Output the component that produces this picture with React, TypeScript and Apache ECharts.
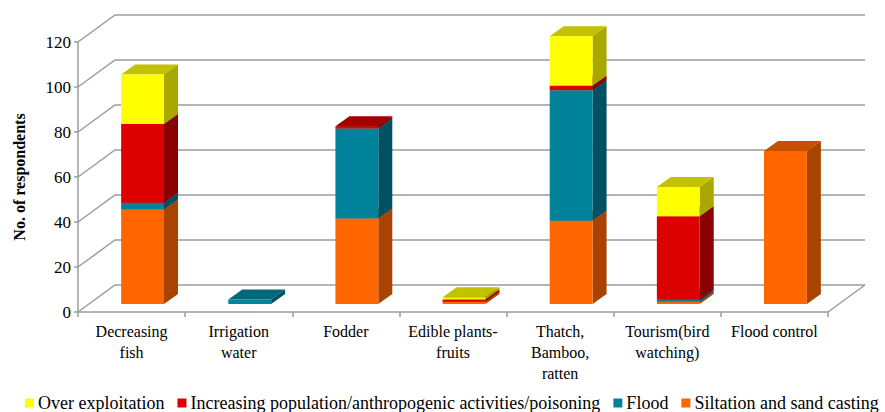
import React, { useEffect, useRef } from "react";
import * as echarts from "echarts";

const categories = [
  "Decreasing\nfish",
  "Irrigation\nwater",
  "Fodder",
  "Edible plants-\nfruits",
  "Thatch,\nBamboo,\nratten",
  "Tourism(bird\nwatching)",
  "Flood control",
];
const siltation = [42, 0, 38, 1, 37, 1, 68];
const flood = [3, 2, 40, 0, 58, 1, 0];
const increasing = [35, 0, 1, 1, 2, 37, 0];
const overExploitation = [22, 0, 0, 1, 22, 13, 0];
const yTicks = [0, 20, 40, 60, 80, 100, 120];

const seriesNames = [
  "Siltation and sand casting",
  "Flood",
  "Increasing population/anthropogenic activities/poisoning",
  "Over exploitation",
];
const legendOrder = [
  "Over exploitation",
  "Increasing population/anthropogenic activities/poisoning",
  "Flood",
  "Siltation and sand casting",
];

const FONT = "Liberation Serif";
const GRID_COLOR = "#9c9c9c";
const DX = 37;
const DY = -27;
const BAR_OFF_X = 11;
const BAR_OFF_Y = -8;
const BAR_DX = 14;
const BAR_DY = -10;

const palettes = [
  { front: "#FF6600", side: "#A84300", top: "#C45000" },
  { front: "#00839A", side: "#005263", top: "#006878" },
  { front: "#DD0000", side: "#8A0000", top: "#A50000" },
  { front: "#FFFF00", side: "#A8A800", top: "#C2C200" },
];

export default function App() {
  const ref = useRef<HTMLDivElement>(null);
  useEffect(() => {
    if (!ref.current) return;
    const chart = echarts.init(ref.current, null, { renderer: "svg" });
    const valueSets = [siltation, flood, increasing, overExploitation];
    const bases = categories.map(() => 0);
    const stacked = valueSets.map((vals) =>
      vals.map((v, i) => {
        const a = bases[i];
        bases[i] += v;
        return [i, a, a + v];
      })
    );

    const gridSeries = {
      type: "custom",
      silent: true,
      z: 1,
      data: yTicks.map((v) => [0, v]),
      encode: { x: 0, y: 1 },
      renderItem: (params: any, api: any) => {
        const cs = params.coordSys;
        const x0 = cs.x;
        const x1 = cs.x + cs.width;
        const v = api.value(1);
        const y = api.coord([0, v])[1];
        const children: any[] = [
          {
            type: "polyline",
            shape: {
              points: [
                [x0, y],
                [x0 + DX, y + DY],
                [x1 + DX, y + DY],
              ],
            },
            style: { stroke: GRID_COLOR, lineWidth: 1.5, fill: null },
          },
        ];
        if (v === 0) {
          children.push({
            type: "line",
            shape: { x1: x1, y1: y, x2: x1 + DX, y2: y + DY },
            style: { stroke: GRID_COLOR, lineWidth: 1.5 },
          });
        }
        return { type: "group", children };
      },
    };

    const barSeries = stacked.map((data, si) => {
      const pal = palettes[si];
      return {
        type: "custom",
        name: seriesNames[si],
        z: 2 + si,
        itemStyle: { color: pal.front },
        data,
        encode: { x: 0, y: [1, 2] },
        renderItem: (params: any, api: any) => {
          const ci = api.value(0);
          const a = api.value(1);
          const b = api.value(2);
          if (b - a <= 0) return { type: "group", children: [] };
          const p0 = api.coord([ci, a]);
          const p1 = api.coord([ci, b]);
          const band = api.size([1, 0])[0];
          const bw = band * 0.4;
          const xl = p0[0] - bw / 2 + BAR_OFF_X;
          const xr = xl + bw;
          const y0 = p0[1] + BAR_OFF_Y;
          const y1 = p1[1] + BAR_OFF_Y;
          return {
            type: "group",
            children: [
              {
                type: "polygon",
                shape: {
                  points: [
                    [xl, y1],
                    [xr, y1],
                    [xr + BAR_DX, y1 + BAR_DY],
                    [xl + BAR_DX, y1 + BAR_DY],
                  ],
                },
                style: { fill: pal.top },
              },
              {
                type: "polygon",
                shape: {
                  points: [
                    [xr, y0],
                    [xr + BAR_DX, y0 + BAR_DY],
                    [xr + BAR_DX, y1 + BAR_DY],
                    [xr, y1],
                  ],
                },
                style: { fill: pal.side },
              },
              {
                type: "rect",
                shape: { x: xl, y: y1, width: bw, height: y0 - y1 },
                style: { fill: pal.front },
              },
            ],
          };
        },
      };
    });

    chart.setOption({
      animation: false,
      textStyle: { fontFamily: FONT },
      grid: { left: 78, right: 57, top: 42, bottom: 100 },
      legend: {
        data: legendOrder,
        left: 25,
        top: 394,
        width: 900,
        icon: "rect",
        itemWidth: 9,
        itemHeight: 9,
        itemGap: 13,
        padding: 0,
        textStyle: { fontFamily: FONT, fontSize: 18, color: "#000", padding: [0, 0, 0, -1] },
      },
      xAxis: {
        type: "category",
        data: categories,
        boundaryGap: true,
        axisLine: { show: true, lineStyle: { color: GRID_COLOR, width: 1.5 } },
        axisTick: { show: true, interval: 0, length: 5, lineStyle: { color: GRID_COLOR, width: 1.5 } },
        axisLabel: {
          interval: 0,
          fontFamily: FONT,
          fontSize: 16,
          lineHeight: 21,
          color: "#000",
          margin: 9,
        },
        splitLine: { show: false },
      },
      yAxis: {
        type: "value",
        min: 0,
        max: 120,
        interval: 20,
        name: "No. of respondents",
        nameLocation: "middle",
        nameRotate: 90,
        nameGap: 51,
        nameTextStyle: { fontFamily: FONT, fontSize: 16, fontWeight: "bold", color: "#000" },
        axisLine: { show: true, lineStyle: { color: GRID_COLOR, width: 1.5 } },
        axisTick: { show: true, length: 4, lineStyle: { color: GRID_COLOR, width: 1.5 } },
        axisLabel: { fontFamily: FONT, fontSize: 17, color: "#000", margin: 7 },
        splitLine: { show: false },
      },
      series: [gridSeries, ...barSeries],
    });
    return () => chart.dispose();
  }, []);
  return (
    <div
      ref={ref}
      style={{ position: "absolute", left: 0, top: 0, width: 885, height: 412, background: "#fff" }}
    />
  );
}
